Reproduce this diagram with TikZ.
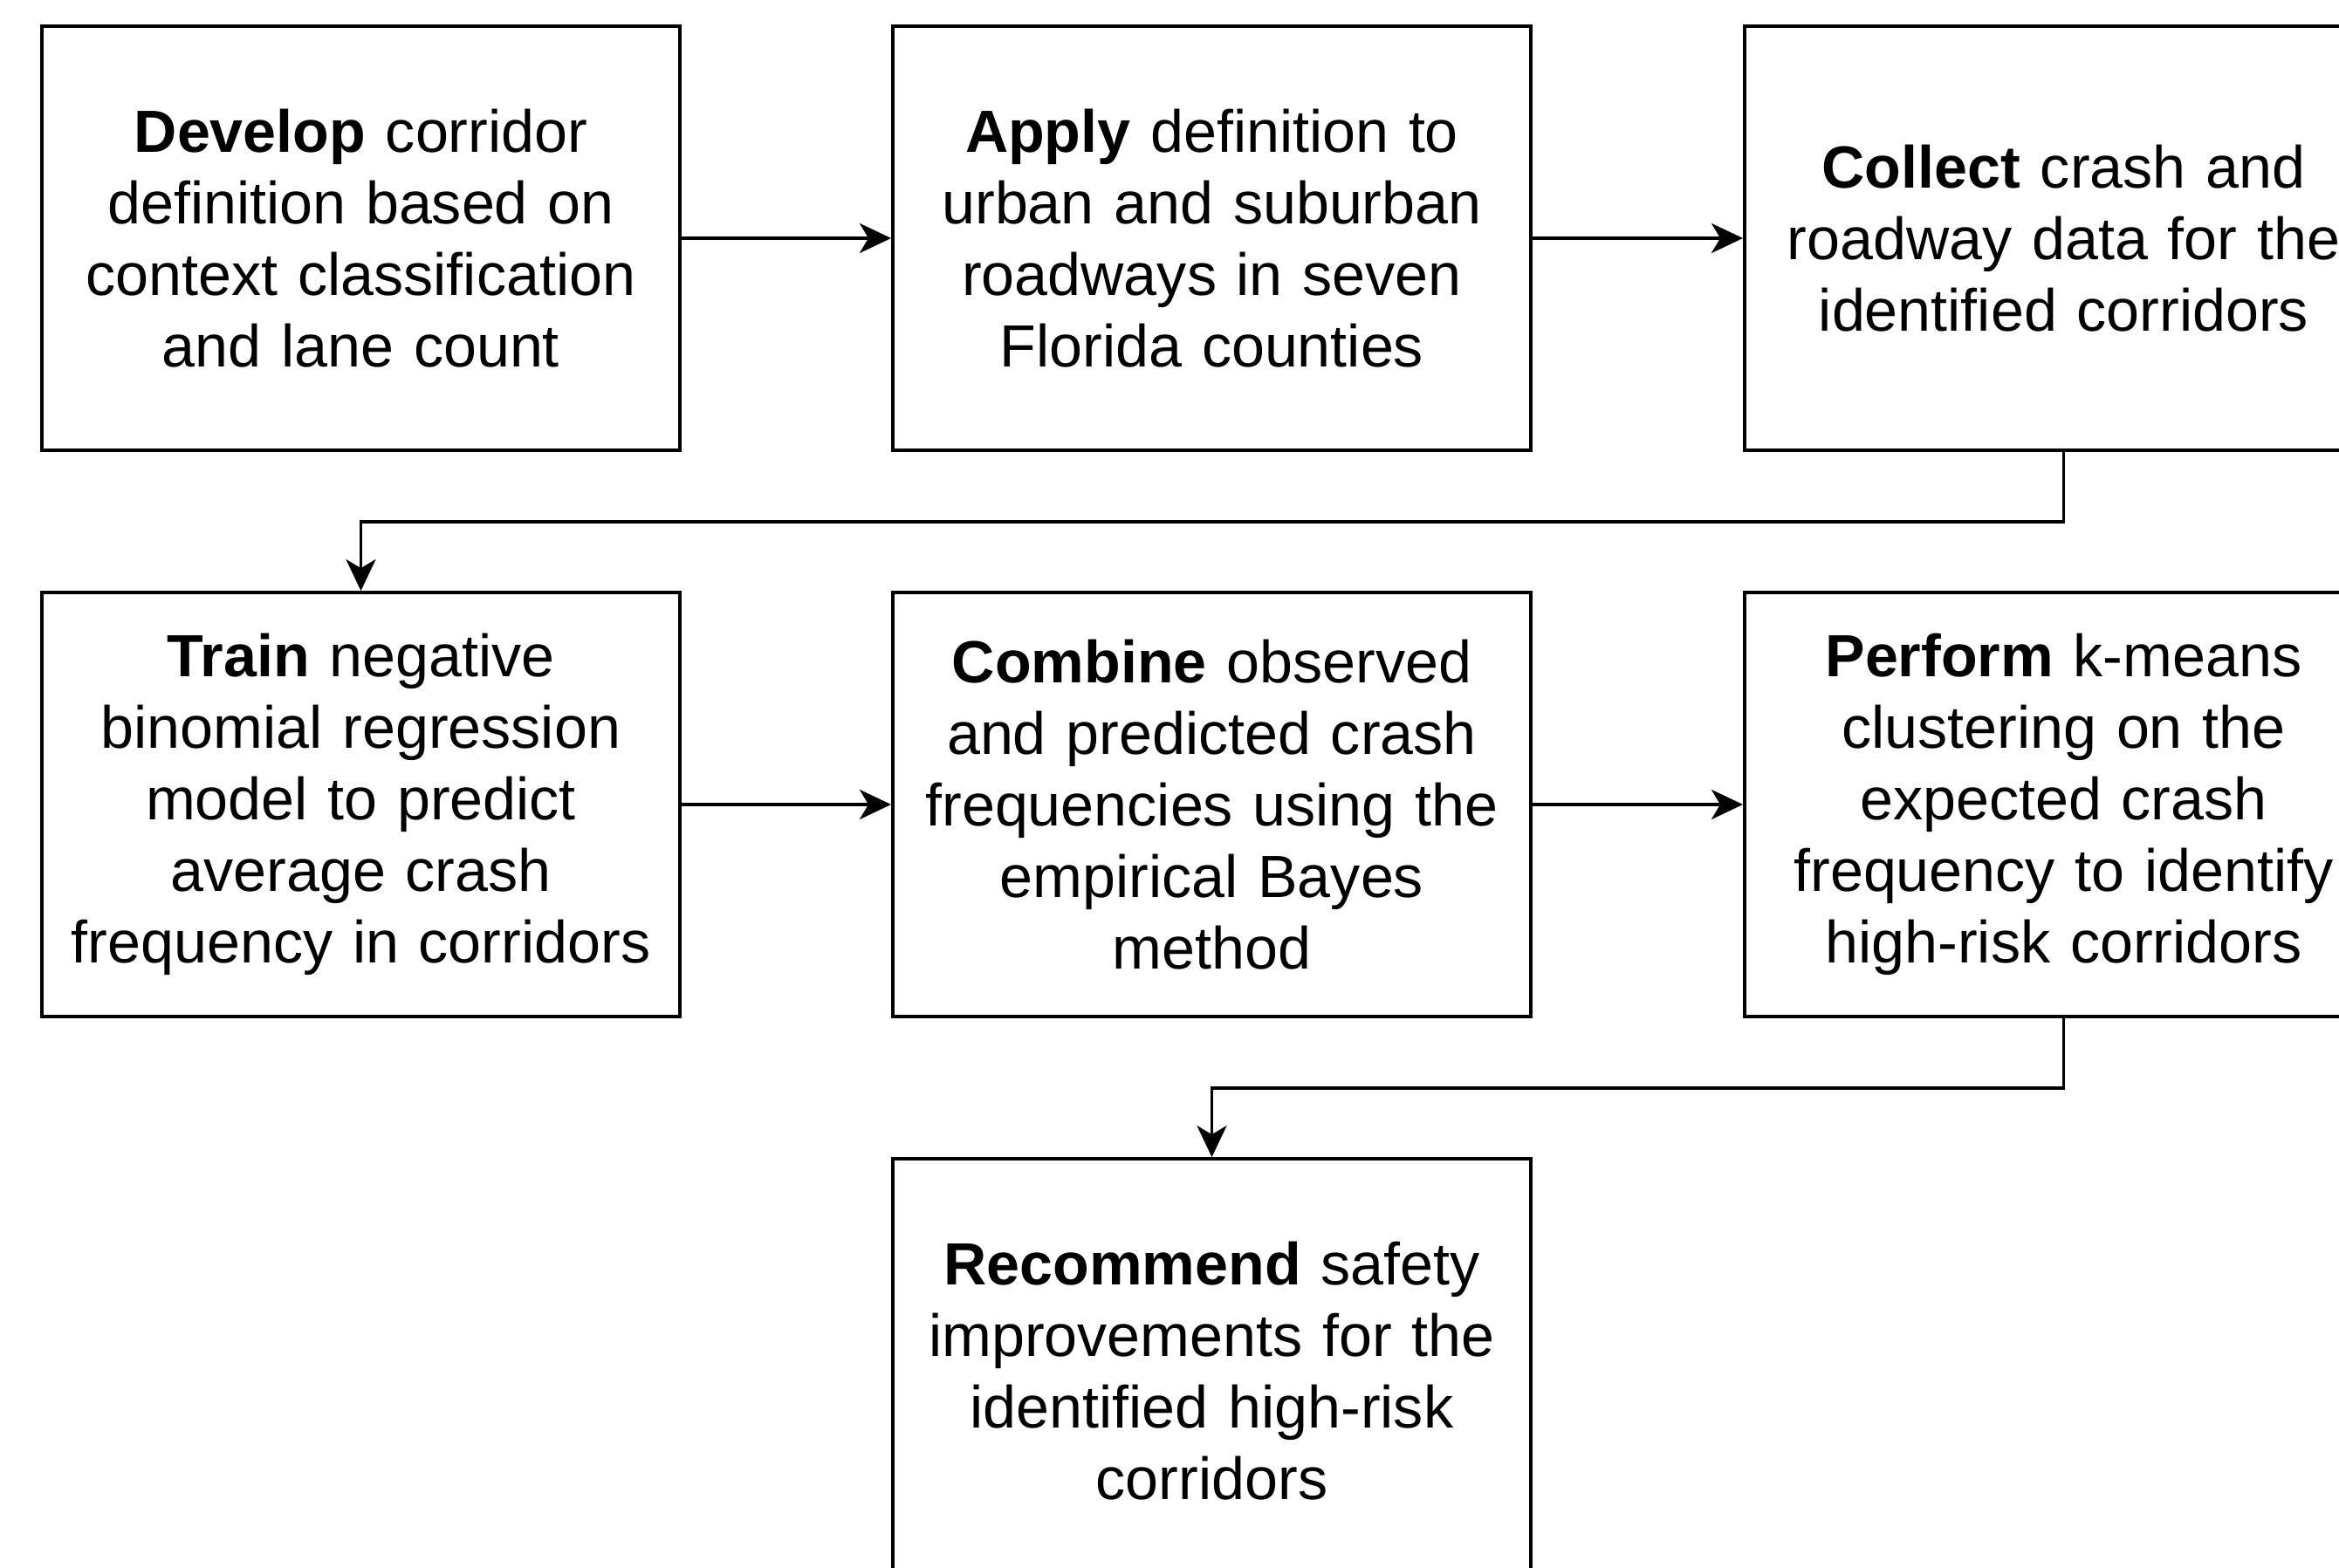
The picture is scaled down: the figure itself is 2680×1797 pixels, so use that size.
\documentclass[tikz,border=0pt]{standalone}
\usepackage{fontspec}
\setmainfont{Liberation Sans}
\usetikzlibrary{arrows.meta}
\begin{document}
\begin{tikzpicture}[x=0.01cm,y=-0.01cm,
  stepbox/.style={draw, line width=1pt, rectangle, minimum width=7.31cm, minimum height=4.86cm,
    text width=7.2cm, align=center, inner sep=0pt,
    font=\fontsize{19.4}{23.3}\selectfont},
  conn/.style={line width=1pt, -{Stealth[length=0.36cm,width=0.34cm,inset=0.1cm]}}]
\useasboundingbox (0,0) rectangle (2680,1797);
\node[stepbox] (b1) at (413.5,273) {\textbf{Develop} corridor\\definition based on\\context classification\\and lane count};
\node[stepbox] (b2) at (1388.5,273) {\textbf{Apply} definition to\\urban and suburban\\roadways in seven\\Florida counties};
\node[stepbox] (b3) at (2364.5,273) {\textbf{Collect} crash and\\roadway data for the\\identified corridors};
\node[stepbox] (b4) at (413.5,922) {\textbf{Train} negative\\binomial regression\\model to predict\\average crash\\frequency in corridors};
\node[stepbox] (b5) at (1388.5,922) {\textbf{Combine} observed\\and predicted crash\\frequencies using the\\empirical Bayes\\method};
\node[stepbox] (b6) at (2364.5,922) {\textbf{Perform} k-means\\clustering on the\\expected crash\\frequency to identify\\high-risk corridors};
\node[stepbox] (b7) at (1388.5,1571) {\textbf{Recommend} safety\\improvements for the\\identified high-risk\\corridors};
\draw[conn] (b1) -- (b2);
\draw[conn] (b2) -- (b3);
\draw[conn] (b4) -- (b5);
\draw[conn] (b5) -- (b6);
\draw[conn] (b3.south) -- ++(0,80) -| (b4.north);
\draw[conn] (b6.south) -- ++(0,80) -| (b7.north);
\end{tikzpicture}
\end{document}
